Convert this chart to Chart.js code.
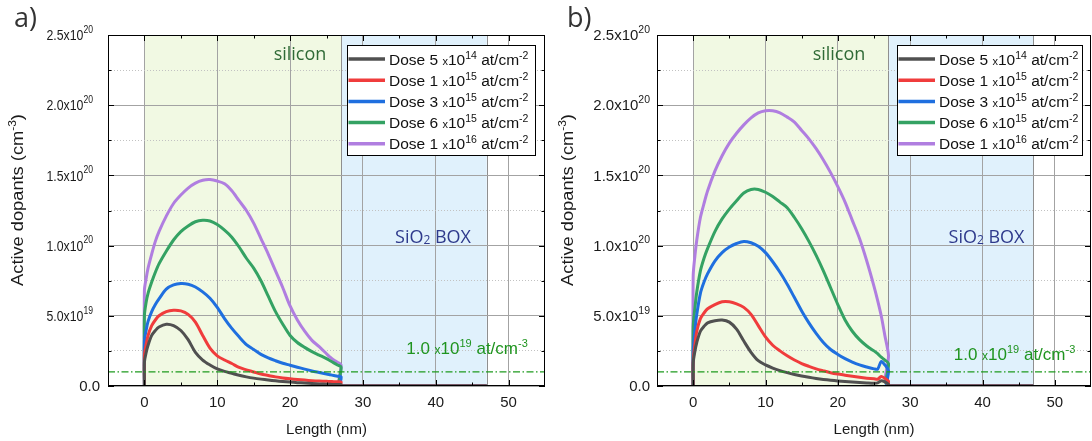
<!DOCTYPE html>
<html>
<head>
<meta charset="utf-8">
<script src="https://cdn.jsdelivr.net/npm/chart.js@4.4.0/dist/chart.umd.min.js"></script>
<style>
  html, body { margin: 0; padding: 0; background: #fff; }
  .panel { position: absolute; top: 0; width: 546px; height: 441px; }
  #pa { left: 0; }
  #pb { left: 546px; }
</style>
</head>
<body>
<div class="panel" id="pa"><canvas id="chartA" width="546" height="441"></canvas></div>
<div class="panel" id="pb"><canvas id="chartB" width="546" height="441"></canvas></div>
<script>
// depth (nm); 0 and 27 appear twice for the vertical jumps at the silicon edges
const depth = [0, 0, 0.25, 0.5, 1, 1.5, 2, 3, 4, 5, 6, 7, 8, 9, 10, 11, 12, 13, 14, 15, 16, 17, 18, 19, 20, 21, 22, 23, 24, 25, 25.5, 26, 26.5, 27, 27, 47];

// active dopants, in units of 1e19 cm^-3 -- panel a
const aDose5e14 = [0, 1.7, 2.4, 2.9, 3.6, 3.95, 4.2, 4.4, 4.3, 3.95, 3.3, 2.4, 1.85, 1.5, 1.22, 1.04, 0.9, 0.76, 0.65, 0.56, 0.49, 0.43, 0.37, 0.32, 0.28, 0.24, 0.21, 0.18, 0.15, 0.13, 0.12, 0.11, 0.1, 0.1, 0, 0];
const aDose1e15 = [0, 2.2, 3.0, 3.6, 4.3, 4.7, 5.0, 5.3, 5.4, 5.35, 5.1, 4.55, 3.6, 2.7, 2.15, 1.85, 1.6, 1.32, 1.15, 1.0, 0.85, 0.75, 0.65, 0.57, 0.51, 0.46, 0.42, 0.38, 0.35, 0.33, 0.32, 0.31, 0.3, 0.29, 0, 0];
const aDose3e15 = [0, 3.2, 4.0, 4.6, 5.3, 5.8, 6.2, 6.9, 7.2, 7.3, 7.25, 7.05, 6.7, 6.25, 5.6, 4.8, 4.1, 3.5, 2.95, 2.6, 2.25, 2.0, 1.8, 1.62, 1.48, 1.34, 1.2, 1.07, 0.96, 0.85, 0.8, 0.75, 0.7, 0.66, 0, 0];
const aDose6e15 = [0, 5.0, 6.0, 6.6, 7.4, 8.1, 8.7, 9.6, 10.4, 11.0, 11.4, 11.7, 11.8, 11.75, 11.5, 11.1, 10.6, 9.9, 9.1, 8.4, 7.5, 6.4, 5.3, 4.4, 3.6, 3.1, 2.75, 2.45, 2.2, 1.95, 1.8, 1.65, 1.5, 1.35, 0, 0];
const aDose1e16 = [0, 6.8, 7.7, 8.4, 9.4, 10.3, 11.0, 12.1, 13.0, 13.6, 14.1, 14.45, 14.65, 14.7, 14.6, 14.4, 13.9, 13.2, 12.5, 11.6, 10.5, 9.4, 8.2, 7.0, 5.7, 4.7, 3.9, 3.25, 2.8, 2.3, 2.05, 1.85, 1.7, 1.5, 0, 0];

// panel b
const bDose5e14 = [0, 1.6, 2.5, 3.1, 3.9, 4.25, 4.5, 4.65, 4.7, 4.55, 4.05, 3.2, 2.4, 1.8, 1.5, 1.28, 1.1, 0.95, 0.82, 0.71, 0.62, 0.54, 0.47, 0.41, 0.36, 0.32, 0.28, 0.25, 0.22, 0.2, 0.22, 0.38, 0.3, 0.12, 0, 0];
const bDose1e15 = [0, 1.8, 3.0, 3.9, 4.8, 5.2, 5.5, 5.8, 6.0, 6.0, 5.85, 5.6, 5.1, 4.3, 3.5, 2.9, 2.5, 2.15, 1.85, 1.6, 1.4, 1.22, 1.08, 0.95, 0.85, 0.77, 0.69, 0.62, 0.56, 0.51, 0.48, 0.68, 0.55, 0.34, 0, 0];
const bDose3e15 = [0, 2.5, 4.0, 5.1, 6.6, 7.4, 8.0, 8.9, 9.5, 9.9, 10.15, 10.3, 10.2, 9.95, 9.5, 8.85, 8.1, 7.25, 6.3, 5.35, 4.5, 3.75, 3.1, 2.6, 2.25, 1.95, 1.7, 1.5, 1.35, 1.22, 1.2, 1.75, 1.5, 1.1, 0, 0];
const bDose6e15 = [0, 4.2, 5.6, 6.7, 8.2, 9.1, 9.8, 11.0, 11.9, 12.6, 13.2, 13.75, 14.0, 14.0, 13.8, 13.5, 13.1, 12.7, 12.0, 11.2, 10.3, 9.3, 8.2, 7.0, 5.8, 4.7, 3.9, 3.3, 2.85, 2.5, 2.3, 2.05, 1.85, 1.6, 0, 0];
const bDose1e16 = [0, 7.8, 9.3, 10.4, 12.0, 13.0, 13.9, 15.3, 16.4, 17.3, 18.0, 18.6, 19.1, 19.45, 19.6, 19.6, 19.45, 19.15, 18.8, 18.2, 17.6, 16.9, 16.1, 15.2, 14.2, 13.1, 11.8, 10.5, 8.9, 7.1, 6.1, 5.0, 3.6, 2.2, 0, 0];

const doseMant = ['5', '1', '3', '6', '1'];
const doseExp = ['14', '15', '15', '15', '16'];
const curveColors = ['#505050', '#f03c3c', '#1f6fdf', '#34a263', '#b07ee0'];

const thresholdX = [-5, 55];
const thresholdY = [1, 1];
const siliconRange = [0, 27];
const boxRange = [27, 47];

const xTickVals = [0, 10, 20, 30, 40, 50];
const xMinorVals = [5, 15, 25, 35, 45];
const yGridVals = [0, 2.5, 5, 7.5, 10, 12.5, 15, 17.5, 20, 22.5, 25];
const yLabelVals = [0, 5, 10, 15, 20, 25];
const yLabelMant = ['0.0', '5.0', '1.0', '1.5', '2.0', '2.5'];
const yLabelExp = ['', '19', '20', '20', '20', '20'];

const FONT = '"Liberation Sans", Arial, sans-serif';
const SANS = '"Open Sans", "Noto Sans", sans-serif';

// parts: [text, size, rise, family]
function richText(ctx, parts, x, y, align, sx) {
  sx = sx || 1;
  let w = 0;
  const widths = parts.map(p => {
    ctx.font = p[1] + 'px ' + (p[3] || FONT);
    const m = ctx.measureText(p[0]).width;
    w += m;
    return m;
  });
  let cx = align === 'right' ? -w : align === 'center' ? -w / 2 : 0;
  ctx.save();
  ctx.translate(x, y);
  ctx.scale(sx, 1);
  ctx.textAlign = 'left';
  parts.forEach((p, i) => {
    ctx.font = p[1] + 'px ' + (p[3] || FONT);
    ctx.fillText(p[0], cx, -(p[2] || 0));
    cx += widths[i];
  });
  ctx.restore();
}

function line(ctx, x1, y1, x2, y2) {
  ctx.beginPath();
  ctx.moveTo(x1, y1);
  ctx.lineTo(x2, y2);
  ctx.stroke();
}

function makeChart(cfg) {
  const datasets = [{
    data: thresholdX.map((x, i) => ({ x: x, y: thresholdY[i] })),
    borderColor: '#1e9a1e',
    borderWidth: 1.3,
    borderDash: [7, 2.5, 1.5, 2.5],
    pointRadius: 0
  }];
  cfg.series.forEach((ys, i) => {
    datasets.push({
      label: 'Dose ' + doseMant[i] + 'x10' + doseExp[i],
      data: depth.map((x, j) => ({ x: x, y: ys[j] })),
      borderColor: curveColors[i],
      borderWidth: 3,
      pointRadius: 0,
      tension: 0.3
    });
  });

  const decor = {
    id: 'decor',
    beforeDraw(chart) {
      const { ctx, chartArea: a, scales: { x } } = chart;
      const h = a.bottom - a.top;
      ctx.save();
      ctx.fillStyle = '#f1f9e3';
      const s0 = x.getPixelForValue(siliconRange[0]), s1 = x.getPixelForValue(siliconRange[1]);
      ctx.fillRect(s0, a.top, s1 - s0, h);
      ctx.fillStyle = '#e0f1fc';
      const b1 = x.getPixelForValue(boxRange[1]);
      ctx.fillRect(s1, a.top, b1 - s1, h);
      ctx.strokeStyle = '#8f8f8f';
      ctx.lineWidth = 1;
      [s1, b1].forEach(px => {
        const p = Math.round(px) + 0.5;
        line(ctx, p, a.top, p, a.bottom);
      });
      ctx.restore();
    },
    afterDraw(chart) {
      const { ctx, chartArea: a, scales: { x, y } } = chart;
      ctx.save();
      // frame and inward ticks
      ctx.strokeStyle = '#000';
      ctx.lineWidth = 1;
      ctx.strokeRect(a.left + 0.5, a.top + 0.5, a.right - a.left - 1, a.bottom - a.top - 1);
      xTickVals.concat(xMinorVals).forEach(v => {
        const len = xTickVals.includes(v) ? 6 : 3.5;
        const p = Math.round(x.getPixelForValue(v)) + 0.5;
        line(ctx, p, a.bottom, p, a.bottom - len);
        line(ctx, p, a.top, p, a.top + len);
      });
      yGridVals.forEach(v => {
        const len = v % 5 === 0 ? 6 : 3.5;
        const p = Math.round(y.getPixelForValue(v)) + 0.5;
        line(ctx, a.left, p, a.left + len, p);
        line(ctx, a.right, p, a.right - len, p);
      });

      // axis labels
      ctx.fillStyle = '#1a1a1a';
      ctx.textBaseline = 'alphabetic';
      ctx.font = '15px ' + FONT;
      ctx.textAlign = 'center';
      xTickVals.forEach(v => ctx.fillText(String(v), x.getPixelForValue(v), 407));
      ctx.fillText('Length (nm)', (a.left + a.right) / 2, 434);

      ctx.textBaseline = 'middle';
      yLabelVals.forEach((v, i) => {
        const py = y.getPixelForValue(v) + 1;
        if (yLabelExp[i] === '') {
          richText(ctx, [[yLabelMant[i], 15]], a.left - cfg.zeroRight, py, 'right');
        } else {
          richText(ctx, [[yLabelMant[i] + 'x10', 15], [yLabelExp[i], 10.5, 6]], a.left - cfg.tickRight, py, 'right', cfg.tickSx);
        }
      });

      ctx.save();
      ctx.translate(cfg.titleX, 200);
      ctx.rotate(-Math.PI / 2);
      richText(ctx, [['Active dopants (cm', 16], ['-3', 10.5, 6], [')', 16]], 0, 0, 'center', 1.14);
      ctx.restore();

      // panel tag
      ctx.textBaseline = 'alphabetic';
      ctx.fillStyle = '#333';
      richText(ctx, [[cfg.tag, 27, 0, SANS]], cfg.tagX, 27, 'left');

      // region names and threshold note
      ctx.fillStyle = '#2f6a36';
      richText(ctx, [['silicon', 18, 0, SANS]], a.left + cfg.silicon[0], a.top + cfg.silicon[1], 'center');
      ctx.fillStyle = '#2e3a8c';
      richText(ctx, [['SiO', 18, 0, SANS], ['2', 12, -0.5, SANS], [' BOX', 18, 0, SANS]], a.left + cfg.box[0], a.top + cfg.box[1], 'center');
      ctx.fillStyle = '#1f941f';
      richText(ctx, [['1.0 ', 17], ['x', 12], ['10', 17], ['19', 11, 7], [' at/cm', 17], ['-3', 11, 7]], a.left + cfg.thr[0], a.top + cfg.thr[1], 'center');

      // legend
      const lw = cfg.legendWidth, lh = 110;
      const lx = a.right - cfg.legendRight - lw, ly = a.top + 10;
      ctx.fillStyle = '#fff';
      ctx.fillRect(lx, ly, lw, lh);
      ctx.strokeStyle = '#000';
      ctx.lineWidth = 1;
      ctx.strokeRect(Math.round(lx) + 0.5, Math.round(ly) + 0.5, lw, lh);
      doseMant.forEach((m, i) => {
        const ry = ly + 14 + i * 21.2;
        ctx.strokeStyle = curveColors[i];
        ctx.lineWidth = 3.5;
        line(ctx, lx + 1.5, ry, lx + 38, ry);
        ctx.fillStyle = '#111';
        richText(ctx, [['Dose ' + m + ' ', 15.5], ['x', 11], ['10', 15.5], [doseExp[i], 10.5, 6], [' at/cm', 15.5], ['-2', 10.5, 6]], lx + 42, ry + 5.5, 'left');
      });
      ctx.restore();
    }
  };

  return new Chart(document.getElementById(cfg.canvas), {
    type: 'line',
    data: { datasets: datasets },
    plugins: [decor],
    options: {
      responsive: false,
      animation: false,
      layout: { padding: { top: 35, right: 1, left: 0, bottom: 0 } },
      plugins: { legend: { display: false }, tooltip: { enabled: false } },
      scales: {
        x: {
          type: 'linear', min: -5, max: 55,
          afterBuildTicks: s => { s.ticks = xTickVals.map(v => ({ value: v })); },
          afterFit: s => { s.height = 55; },
          ticks: { display: false },
          grid: { color: '#a3a3a3', lineWidth: 1, drawTicks: false },
          border: { display: false }
        },
        y: {
          type: 'linear', min: 0, max: 25,
          afterBuildTicks: s => { s.ticks = yGridVals.map(v => ({ value: v })); },
          afterFit: s => { s.width = cfg.yAxisWidth; },
          ticks: { display: false },
          grid: {
            color: c => (c.tick && c.tick.value % 5 !== 0) ? '#c2c2c2' : '#a3a3a3',
            lineWidth: 1,
            drawTicks: false
          },
          border: { display: false, dash: c => (c.tick && c.tick.value % 5 !== 0) ? [1, 2] : [] }
        }
      }
    }
  });
}

makeChart({
  canvas: 'chartA', tag: 'a)', tagX: 14, yAxisWidth: 108,
  series: [aDose5e14, aDose1e15, aDose3e15, aDose6e15, aDose1e16],
  tickSx: 0.82, tickRight: 15, zeroRight: 8, titleX: 19,
  silicon: [192, 25], box: [325, 208], thr: [359, 319],
  legendRight: 10, legendWidth: 188
});

makeChart({
  canvas: 'chartB', tag: 'b)', tagX: 21, yAxisWidth: 111,
  series: [bDose5e14, bDose1e15, bDose3e15, bDose6e15, bDose1e16],
  tickSx: 1, tickRight: 7, zeroRight: 7, titleX: 23,
  silicon: [182, 25], box: [329.5, 208], thr: [357.5, 325],
  legendRight: 9, legendWidth: 185
});
</script>
</body>
</html>
